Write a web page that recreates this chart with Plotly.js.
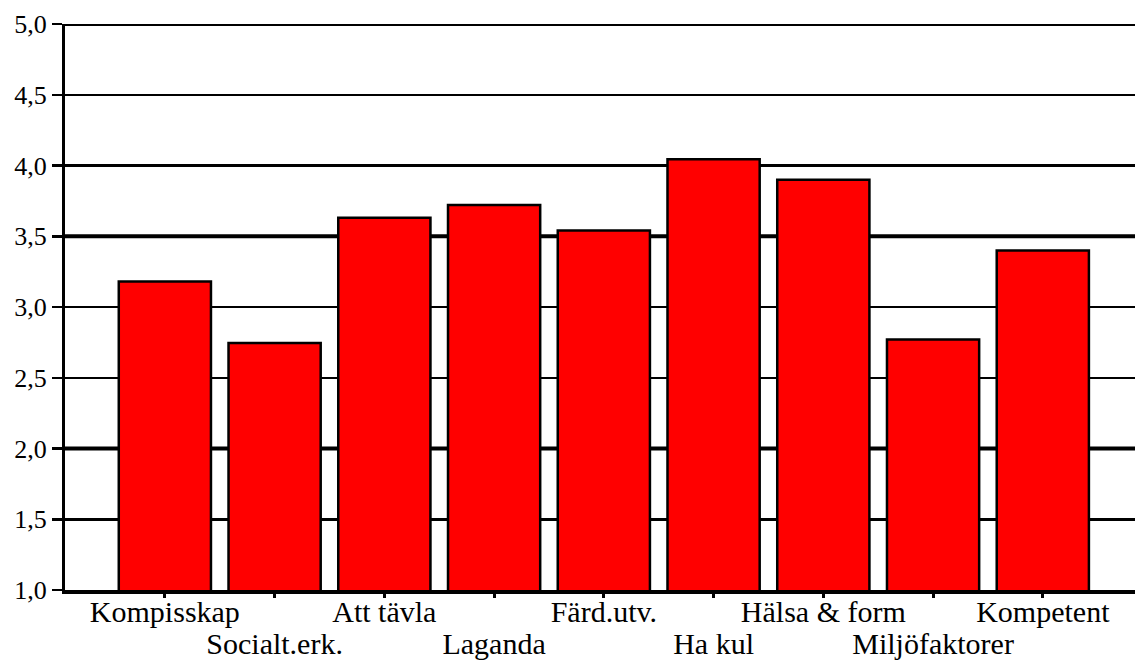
<!DOCTYPE html>
<html>
<head>
<meta charset="utf-8">
<script src="https://cdn.plot.ly/plotly-3.0.1.min.js"></script>
<style>html,body{margin:0;padding:0;background:#fff;}#chart{width:1135px;height:661px;}</style>
</head>
<body>
<div id="chart"></div>
<script>
const categories = ['Kompisskap','Socialt.erk.','Att tävla','Laganda','Färd.utv.','Ha kul','Hälsa & form','Miljöfaktorer','Kompetent'];
const values = [3.18, 2.745, 3.63, 3.72, 3.54, 4.045, 3.90, 2.77, 3.40];
const upperLabels = categories.map((c, i) => (i % 2 === 0 ? c : ''));
const lowerLabels = categories.map((c, i) => (i % 2 === 1 ? c : ''));
const yTicks = [1.0, 1.5, 2.0, 2.5, 3.0, 3.5, 4.0, 4.5, 5.0];
const thickGrid = [2.0, 3.5, 5.0];

const idx = categories.map((c, i) => i);
const FONT = 'Liberation Serif';
const XR = [-0.91, 8.84];

const trace = {
  type: 'bar',
  x: idx,
  y: values,
  marker: { color: '#ff0000', line: { color: '#000000', width: 2.5 } },
  hoverinfo: 'x+y'
};

// invisible helper so the second label row (xaxis2) is drawn
const helper = {
  type: 'scatter',
  mode: 'markers',
  x: idx,
  y: values,
  xaxis: 'x2',
  yaxis: 'y',
  marker: { opacity: 0, size: 1 },
  hoverinfo: 'skip',
  showlegend: false
};

const xBase = {
  range: XR,
  tickmode: 'array',
  tickvals: idx,
  tickangle: 0,
  automargin: false,
  showgrid: false,
  zeroline: false,
  tickfont: { family: FONT, size: 30, color: '#000' },
  fixedrange: true
};

const layout = {
  width: 1135,
  height: 661,
  margin: { l: 65, r: 0, t: 24, b: 71 },
  paper_bgcolor: '#ffffff',
  plot_bgcolor: '#ffffff',
  separators: ',.',
  showlegend: false,
  bargap: 0.16,
  font: { family: FONT, color: '#000000', size: 28 },
  xaxis: Object.assign({}, xBase, {
    ticktext: upperLabels,
    ticks: 'outside',
    ticklen: 4,
    tickwidth: 3,
    tickcolor: '#000',
    showline: true,
    linecolor: '#000',
    linewidth: 4,
    ticklabelstandoff: -12
  }),
  xaxis2: Object.assign({}, xBase, {
    ticktext: lowerLabels,
    overlaying: 'x',
    anchor: 'y',
    side: 'bottom',
    ticks: '',
    showline: false,
    ticklabelstandoff: 33
  }),
  yaxis: {
    range: [1, 5],
    tickmode: 'array',
    tickvals: yTicks,
    tickformat: '.1f',
    automargin: false,
    ticks: 'outside',
    ticklen: 10,
    tickwidth: 2.5,
    tickcolor: '#000',
    showline: true,
    linecolor: '#000',
    linewidth: 3,
    showgrid: true,
    gridcolor: '#000',
    gridwidth: 2.5,
    zeroline: false,
    tickfont: { family: FONT, size: 26, color: '#000' },
    fixedrange: true
  },
  shapes: thickGrid.map(v => ({
    type: 'line', xref: 'paper', yref: 'y', x0: 0, x1: 1, y0: v, y1: v,
    line: { color: '#000', width: 4 }, layer: 'below'
  }))
};

Plotly.newPlot('chart', [trace, helper], layout, { displayModeBar: false, staticPlot: true });
</script>
</body>
</html>
